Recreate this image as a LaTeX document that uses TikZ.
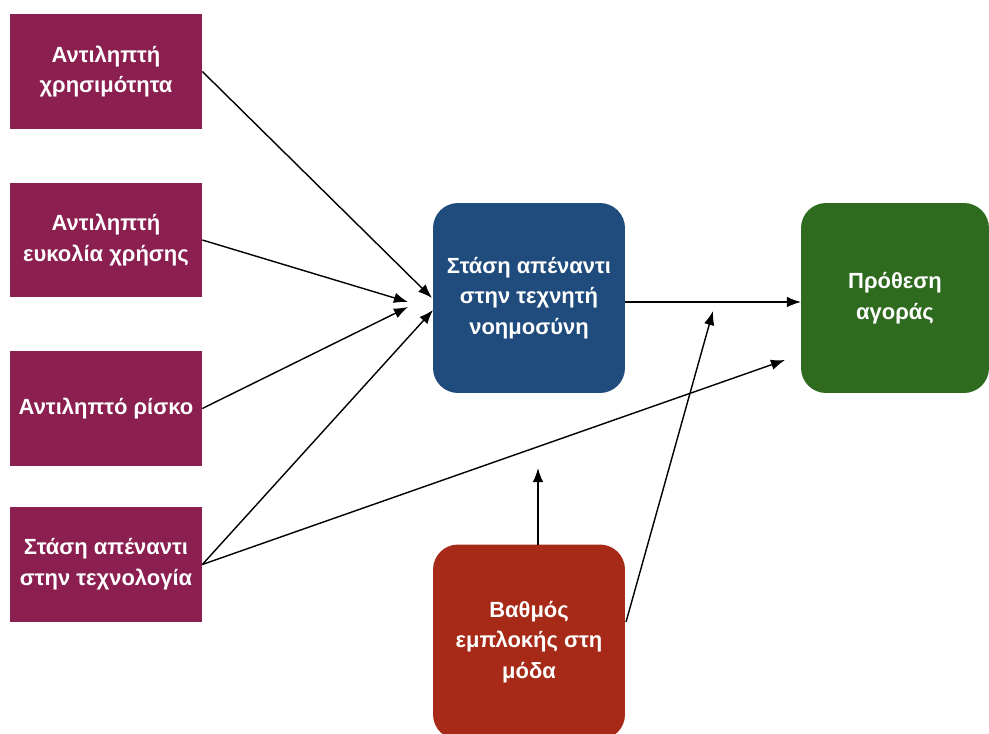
\documentclass[tikz,border=0pt]{standalone}
\usepackage{fontspec}
\setmainfont{Liberation Sans}
\usetikzlibrary{arrows.meta}
\definecolor{factorcol}{HTML}{8A1F50}
\definecolor{attcol}{HTML}{1F4B7D}
\definecolor{intcol}{HTML}{2E6B1E}
\definecolor{modcol}{HTML}{A62A17}
\tikzset{
  factor/.style={fill=factorcol,text=white,align=center,inner sep=0pt,
    minimum width=3.84cm,minimum height=2.3cm,font=\bfseries\fontsize{12.5}{17.5}\selectfont},
  roundbox/.style={text=white,align=center,inner sep=0pt,rounded corners=0.5cm,
    minimum width=3.84cm,minimum height=3.8cm,font=\bfseries\fontsize{12.5}{17.5}\selectfont},
  link/.style={line width=0.8pt,-{Latex[length=8pt,width=6pt]}}
}
\begin{document}
\begin{tikzpicture}[x=0.02cm,y=-0.02cm]
\useasboundingbox (0,0) rectangle (989,733);
\clip (0,0) rectangle (989,733);
\node[factor] (f1) at (106,71.5) {Αντιληπτή\\χρησιμότητα};
\node[factor] (f2) at (106,240) {Αντιληπτή\\ευκολία χρήσης};
\node[factor] (f3) at (106,408.5) {Αντιληπτό ρίσκο};
\node[factor] (f4) at (106,564.5) {Στάση απέναντι\\στην τεχνολογία};
\node[roundbox,fill=attcol] (att) at (529,298) {Στάση απέναντι\\στην τεχνητή\\νοημοσύνη};
\node[roundbox,fill=intcol,minimum width=3.76cm] (buy) at (895,298) {Πρόθεση\\αγοράς};
\node[roundbox,fill=modcol,minimum height=3.9cm] (fash) at (529,642) {Βαθμός\\εμπλοκής στη\\μόδα};
% arrow ends
\coordinate (e1) at (432,298);
\coordinate (e2) at (408,302);
\coordinate (e3) at (408,307);
\coordinate (e4) at (433,310);
\coordinate (e5) at (785,360);
\coordinate (m1) at (538,545);
\coordinate (m1e) at (538,468);
\coordinate (m2) at (626,622);
\coordinate (m2e) at (713,311);
\coordinate (a1) at (625,302);
\coordinate (a2) at (801,302);
\foreach \from/\to in {f1/e1,f2/e2,f3/e3,f4/e4,f4/e5}
\draw[link] (\from.east) -- (\to);
\draw[link] (a1) -- (a2);
\draw[link] (m1) -- (m1e);
\draw[link] (m2) -- (m2e);
\end{tikzpicture}
\end{document}
